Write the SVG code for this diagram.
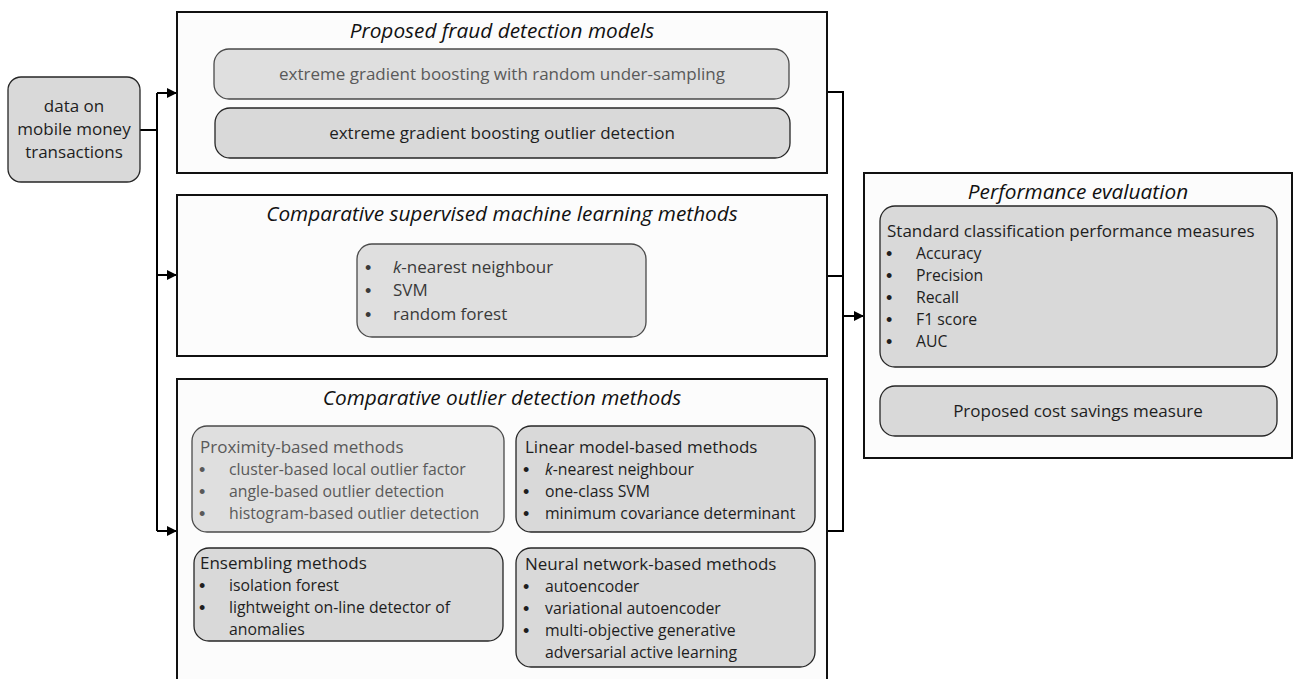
<svg xmlns="http://www.w3.org/2000/svg" width="1298" height="679" viewBox="0 0 1298 679">
<defs>
<marker id="arr" viewBox="0 0 10 10" refX="10" refY="5" markerWidth="11" markerHeight="10" markerUnits="userSpaceOnUse" orient="auto">
<path d="M0,0 L10,5 L0,10 z" fill="#000"/>
</marker>
<style>
.outer{fill:#fcfcfc;stroke:#111;stroke-width:2}
.inner{fill:#d9d9d9;stroke:#262626;stroke-width:1.3}
.light{fill:#dfdfdf;stroke:#4a4a4a;stroke-width:1.3}
text{font-family:"Open Sans","Noto Sans","Liberation Sans",sans-serif;font-size:17px;fill:#1e1e1e}
.title{font-style:italic;font-size:20.8px;text-anchor:middle;fill:#111}
.c{text-anchor:middle}
.g{fill:#595959}
.g2{fill:#3a3a3a}
.k{font-style:italic}
.i{font-size:15.8px}
.b{font-family:"Liberation Sans",Arial,sans-serif;font-size:18px}
.conn{fill:none;stroke:#000;stroke-width:2}
</style>
</defs>
<rect width="1298" height="679" fill="#fff"/>

<g id="connectors">
<path class="conn" d="M140,130 H157"/>
<path class="conn" d="M157,93 V531"/>
<path class="conn" d="M157,93 H177" marker-end="url(#arr)"/>
<path class="conn" d="M157,275 H177" marker-end="url(#arr)"/>
<path class="conn" d="M157,531 H177" marker-end="url(#arr)"/>
<path class="conn" d="M827,92 H843 V531 H827"/>
<path class="conn" d="M827,276 H843"/>
<path class="conn" d="M843,316 H864" marker-end="url(#arr)"/>
</g>

<g id="data">
<rect class="inner" x="8" y="77" width="132" height="105" rx="13"/>
<text class="c" x="74" y="112">data on</text>
<text class="c" x="74" y="135">mobile money</text>
<text class="c" x="74" y="158">transactions</text>
</g>

<g id="proposed">
<rect class="outer" x="177" y="12" width="650" height="161"/>
<text class="title" x="502" y="38">Proposed fraud detection models</text>
<rect class="light" x="214" y="49" width="575" height="50" rx="15"/>
<text class="c g" x="502" y="80">extreme gradient boosting with random under-sampling</text>
<rect class="inner" x="215" y="108" width="575" height="50" rx="15"/>
<text class="c" x="502" y="139">extreme gradient boosting outlier detection</text>
</g>

<g id="supervised">
<rect class="outer" x="177" y="195" width="650" height="161"/>
<text class="title" x="502" y="221">Comparative supervised machine learning methods</text>
<rect class="light" x="357" y="244" width="289" height="93" rx="15"/>
<text class="g2 b" x="365" y="274">•</text><text class="g2" x="393" y="273"><tspan class="k">k</tspan>-nearest neighbour</text>
<text class="g2 b" x="365" y="297">•</text><text class="g2" x="393" y="296">SVM</text>
<text class="g2 b" x="365" y="321">•</text><text class="g2" x="393" y="320">random forest</text>
</g>

<g id="outlier">
<rect class="outer" x="177" y="379" width="650" height="320"/>
<text class="title" x="502" y="405">Comparative outlier detection methods</text>
</g>

<g id="proximity">
<rect class="light" x="192" y="426" width="312" height="106" rx="15"/>
<text class="g" x="200" y="453">Proximity-based methods</text>
<text class="g b" x="199" y="476">•</text><text class="g i" x="229" y="475">cluster-based local outlier factor</text>
<text class="g b" x="199" y="498">•</text><text class="g i" x="229" y="497">angle-based outlier detection</text>
<text class="g b" x="199" y="520">•</text><text class="g i" x="229" y="519">histogram-based outlier detection</text>
</g>

<g id="linear">
<rect class="inner" x="516" y="426" width="299" height="106" rx="15"/>
<text x="525" y="453">Linear model-based methods</text>
<text class="b" x="523" y="476">•</text><text class="i" x="545" y="475"><tspan class="k">k</tspan>-nearest neighbour</text>
<text class="b" x="523" y="498">•</text><text class="i" x="545" y="497">one-class SVM</text>
<text class="b" x="523" y="520">•</text><text class="i" x="545" y="519">minimum covariance determinant</text>
</g>

<g id="ensembling">
<rect class="inner" x="194" y="548" width="309" height="93" rx="15"/>
<text x="200" y="569">Ensembling methods</text>
<text class="b" x="199" y="592">•</text><text class="i" x="229" y="591">isolation forest</text>
<text class="b" x="199" y="614">•</text><text class="i" x="229" y="613">lightweight on-line detector of</text>
<text class="i" x="229" y="635">anomalies</text>
</g>

<g id="neural">
<rect class="inner" x="516" y="548" width="299" height="119" rx="15"/>
<text x="525" y="570">Neural network-based methods</text>
<text class="b" x="523" y="593">•</text><text class="i" x="545" y="592">autoencoder</text>
<text class="b" x="523" y="615">•</text><text class="i" x="545" y="614">variational autoencoder</text>
<text class="b" x="523" y="637">•</text><text class="i" x="545" y="636">multi-objective generative</text>
<text class="i" x="545" y="658">adversarial active learning</text>
</g>

<g id="performance">
<rect class="outer" x="864" y="173" width="428" height="285"/>
<text class="title" x="1078" y="199">Performance evaluation</text>
<rect class="inner" x="880" y="206" width="397" height="161" rx="15"/>
<text x="887" y="237">Standard classification performance measures</text>
<text class="b" x="886" y="260">•</text><text class="i" x="916" y="259">Accuracy</text>
<text class="b" x="886" y="282">•</text><text class="i" x="916" y="281">Precision</text>
<text class="b" x="886" y="304">•</text><text class="i" x="916" y="303">Recall</text>
<text class="b" x="886" y="326">•</text><text class="i" x="916" y="325">F1 score</text>
<text class="b" x="886" y="348">•</text><text class="i" x="916" y="347">AUC</text>
<rect class="inner" x="880" y="386" width="397" height="50" rx="15"/>
<text class="c" x="1078" y="417">Proposed cost savings measure</text>
</g>
</svg>
